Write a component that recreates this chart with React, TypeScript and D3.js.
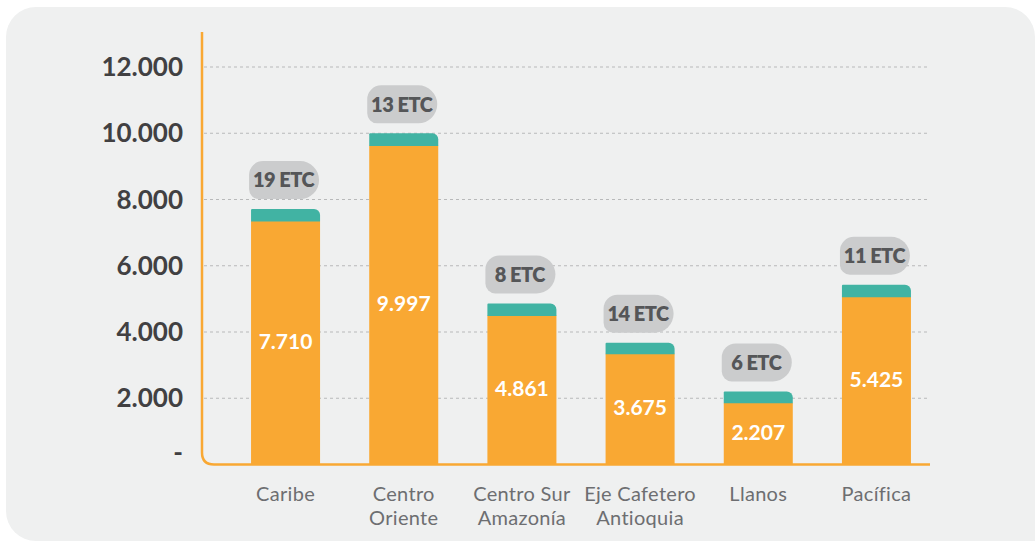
import React from 'react'
import * as d3 from 'd3'

// data
const regions = ['Caribe', 'Centro Oriente', 'Centro Sur Amazonía', 'Eje Cafetero Antioquia', 'Llanos', 'Pacífica']
const regionLines = [['Caribe'], ['Centro', 'Oriente'], ['Centro Sur', 'Amazonía'], ['Eje Cafetero', 'Antioquia'], ['Llanos'], ['Pacífica']]
const totals = [7710, 9997, 4861, 3675, 2207, 5425]
const capValues = [360, 370, 360, 330, 345, 360]
const etcCounts = [19, 13, 8, 14, 6, 11]
const yTicks = [0, 2000, 4000, 6000, 8000, 10000, 12000]
const yTickLabels = ['-', '2.000', '4.000', '6.000', '8.000', '10.000', '12.000']

const W = 1035
const H = 541
const ORANGE = '#f9a833'
const TEAL = '#41b3a3'

const fmt = (v: number) => d3.format(',')(v).replace(/,/g, '.')

// rect with separate radius per corner: tl, tr, br, bl
function roundRect(x: number, y: number, w: number, h: number, tl: number, tr: number, br: number, bl: number) {
  const p = d3.path()
  p.moveTo(x + tl, y)
  p.lineTo(x + w - tr, y)
  p.arcTo(x + w, y, x + w, y + tr, tr)
  p.lineTo(x + w, y + h - br)
  p.arcTo(x + w, y + h, x + w - br, y + h, br)
  p.lineTo(x + bl, y + h)
  p.arcTo(x, y + h, x, y + h - bl, bl)
  p.lineTo(x, y + tl)
  p.arcTo(x, y, x + tl, y, tl)
  p.closePath()
  return p.toString()
}

export default function App() {
  const x = d3.scaleBand<string>()
    .domain(regions)
    .range([202, 960])
    .paddingInner(0.416)
    .paddingOuter(0.415)
  const y = d3.scaleLinear()
    .domain([0, 12000])
    .range([464.5, 67])

  const axisX = 202
  const axisY = y(0)
  const axisEnd = 930
  const corner = 12
  const axisPath = `M${axisX},32 L${axisX},${axisY - corner} Q${axisX},${axisY} ${axisX + corner},${axisY} L${axisEnd},${axisY}`

  const bw = x.bandwidth()

  return (
    <svg width={W} height={H} style={{ position: 'absolute', left: 0, top: 0 }}>
      <rect x={0} y={0} width={W} height={H} fill="#ffffff" />
      <path d={roundRect(6, 7, W - 6, H - 7, 30, 30, 0, 30)} fill="#eff0f0" />

      {/* grid + y labels */}
      {yTicks.map((t, i) => (
        <g key={t}>
          {t > 0 && (
            <line x1={axisX + 2} x2={axisEnd} y1={y(t)} y2={y(t)}
              stroke="#b8b9ba" strokeWidth={1} strokeDasharray="3,3" />
          )}
          <text x={183} y={y(t)} dy={t === 0 ? '-0.1em' : '0.35em'} textAnchor="end"
            fontFamily="Lato" fontWeight={700} fontSize={26} fill="#414042">
            {yTickLabels[i]}
          </text>
        </g>
      ))}

      {/* bars */}
      {regions.map((r, i) => {
        const x0 = x(r) as number
        const top = y(totals[i])
        const split = y(totals[i] - capValues[i])
        const pillH = 38
        const pillBottom = top - 10
        return (
          <g key={r}>
            <rect x={x0} y={split} width={bw} height={axisY - split} fill={ORANGE} />
            <path d={roundRect(x0, top, bw, split - top + 0.5, 1, 6, 0, 0)} fill={TEAL} />
            <text x={x0 + bw / 2} y={(split + axisY) / 2} dy="0.3em" textAnchor="middle"
              fontFamily="Lato" fontWeight={700} fontSize={21} fill="#ffffff">
              {fmt(totals[i])}
            </text>
            <path d={roundRect(x0 - 2, pillBottom - pillH, bw + 1, pillH, 14, 19, 19, 10)} fill="#cbcccd" />
            <text x={x0 + bw / 2 - 2} y={pillBottom - pillH / 2} dy="0.36em" textAnchor="middle"
              fontFamily="Lato" fontWeight={800} fontSize={20} letterSpacing={-0.5} fill="#555658">
              {`${etcCounts[i]} ETC`}
            </text>
            <text x={x0 + bw / 2} y={501} textAnchor="middle"
              fontFamily="Lato" fontWeight={400} fontSize={20} letterSpacing={0.3} fill="#6d6e71">
              {regionLines[i].map((line, j) => (
                <tspan key={j} x={x0 + bw / 2} dy={j === 0 ? 0 : 24}>{line}</tspan>
              ))}
            </text>
          </g>
        )
      })}

      <path d={axisPath} fill="none" stroke={ORANGE} strokeWidth={2.5} />
    </svg>
  )
}
